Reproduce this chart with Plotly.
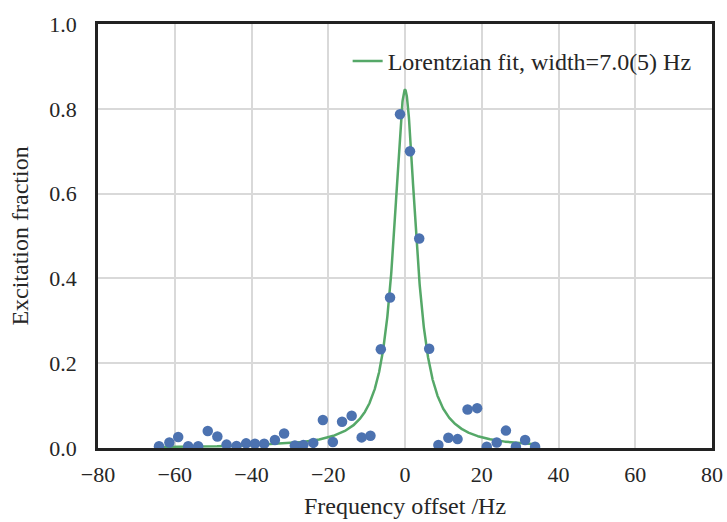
import numpy as np
import plotly.graph_objects as go

# Measured data points (frequency offset in Hz, excitation fraction)
freq = [-64.1, -61.4, -59.1, -56.5, -53.9, -51.4, -48.9, -46.5, -43.9, -41.4,
        -39.1, -36.7, -33.9, -31.5, -28.7, -26.5, -23.9, -21.4, -18.8, -16.4,
        -13.9, -11.3, -9.0, -6.3, -3.9, -1.3, 1.3, 3.7, 6.3, 8.7,
        11.3, 13.7, 16.3, 18.8, 21.3, 23.9, 26.3, 28.9, 31.3, 33.9]
excitation = [0.004, 0.013, 0.026, 0.004, 0.004, 0.040, 0.027, 0.008, 0.005, 0.011,
              0.010, 0.010, 0.019, 0.034, 0.006, 0.007, 0.012, 0.066, 0.014, 0.062,
              0.076, 0.025, 0.029, 0.233, 0.355, 0.787, 0.700, 0.494, 0.234, 0.007,
              0.024, 0.021, 0.091, 0.094, 0.003, 0.013, 0.041, 0.003, 0.019, 0.003]

# Lorentzian fit parameters
fit_amplitude = 0.845
fit_center = 0.0
fit_fwhm = 7.0
fit_label = "Lorentzian fit, width=7.0(5) Hz"

x_ticks = [-80, -60, -40, -20, 0, 20, 40, 60, 80]
y_ticks = [0.0, 0.2, 0.4, 0.6, 0.8, 1.0]

fit_x = np.linspace(min(freq), max(freq), 2000)
g = fit_fwhm / 2.0
fit_y = fit_amplitude / (1 + ((fit_x - fit_center) / g) ** 2)

FONT = "Liberation Serif, Times New Roman, serif"
TXT = "#262626"

fig = go.Figure()
fig.add_trace(go.Scatter(
    x=fit_x, y=fit_y, mode="lines", name=fit_label,
    line=dict(color="#55a868", width=2.5),
))
fig.add_trace(go.Scatter(
    x=freq, y=excitation, mode="markers", showlegend=False,
    marker=dict(color="#4c72b0", size=10.5, line=dict(width=0)),
))

axis_common = dict(
    showgrid=True, gridcolor="#d9d9d9", gridwidth=1.5,
    showline=True, linecolor="#222222", linewidth=2.5, mirror=True,
    zeroline=False, automargin=False,
    tickfont=dict(family=FONT, size=22, color=TXT),
)

fig.update_layout(
    width=727, height=522,
    margin=dict(l=98, r=15, t=24, b=74),
    paper_bgcolor="white", plot_bgcolor="white",
    font=dict(family=FONT, color=TXT),
    xaxis=dict(range=[-80, 80], tickvals=x_ticks,
               ticktext=[("\u2212" + str(-v)) if v < 0 else str(v) for v in x_ticks],
               ticks="outside", ticklen=5, tickcolor="rgba(0,0,0,0)",
               title=dict(text="Frequency offset /Hz", font=dict(family=FONT, size=24, color=TXT), standoff=12),
               **axis_common),
    yaxis=dict(range=[0, 1.0], tickvals=y_ticks, ticktext=[f"{v:.1f}" for v in y_ticks],
               ticks="outside", ticklen=14, tickcolor="rgba(0,0,0,0)",
               title=dict(text="Excitation fraction", font=dict(family=FONT, size=24, color=TXT), standoff=14),
               **axis_common),
    legend=dict(x=0.975, y=0.965, xanchor="right", yanchor="top",
                bgcolor="rgba(255,255,255,0)", font=dict(family=FONT, size=24, color=TXT)),
)

fig.write_html("out.html")
